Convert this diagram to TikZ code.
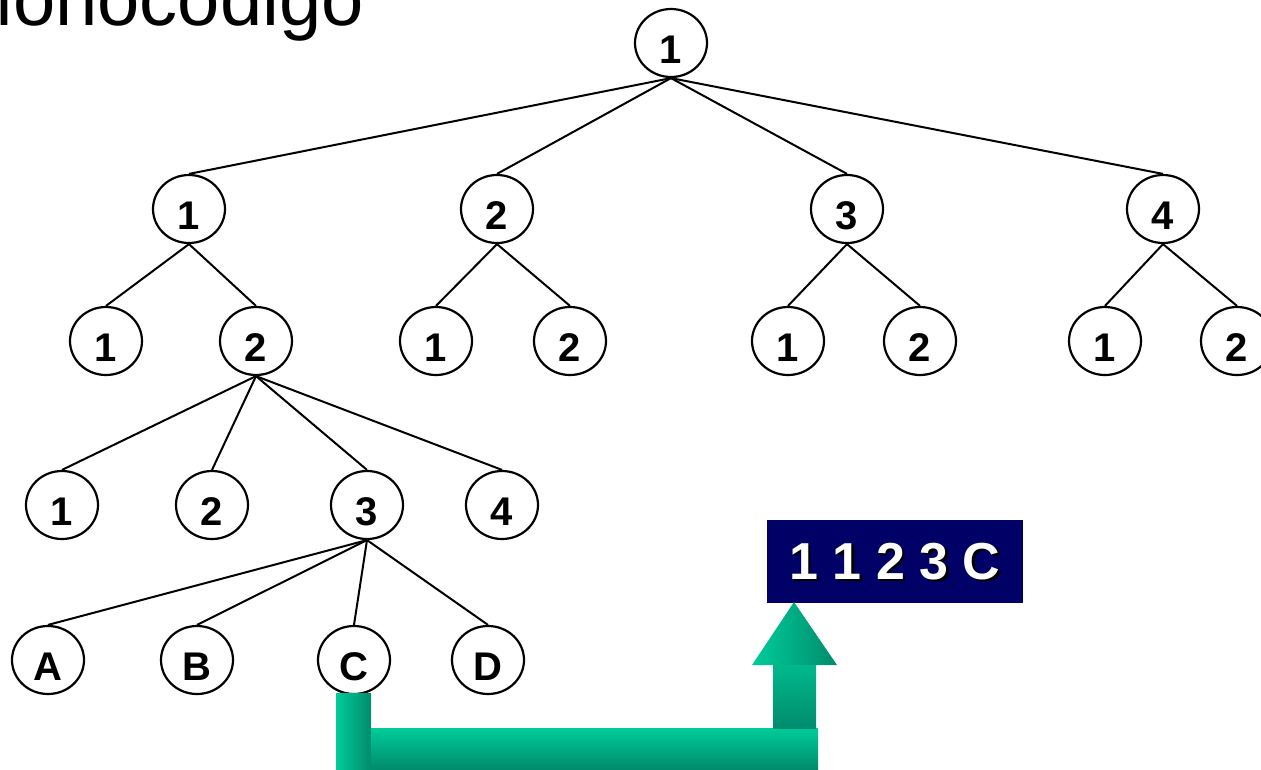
\documentclass[tikz,border=0pt]{standalone}
\usepackage{fontspec}
\setmainfont{Liberation Sans}
\usetikzlibrary{shapes.geometric}
\definecolor{navybox}{HTML}{000066}
\definecolor{grnA}{HTML}{00CC99}
\definecolor{grnB}{HTML}{008C6C}
\tikzset{
  tn/.style={ellipse, draw=black, line width=2.2pt, minimum width=72pt, minimum height=68pt,
    inner sep=0pt, font=\fontsize{40}{42}\selectfont\bfseries, text height=40pt, text depth=0pt},
  ed/.style={line width=2pt},
  codetxt/.style={font=\fontsize{52}{54}\selectfont\bfseries, inner sep=0pt}
}
\begin{document}
\begin{tikzpicture}[x=1pt,y=-1pt]
\useasboundingbox (0,0) rectangle (1261,769);
% title (clipped)
\node[anchor=base east, inner sep=0pt, font=\fontsize{76}{80}\selectfont] (title) at (364,25) {monocodigo};
% tree
\node[tn] (r) at (671,43) {1};
\node[tn] (a1) at (189,209) {1};
\node[tn] (a2) at (497,209) {2};
\node[tn] (a3) at (847,209) {3};
\node[tn] (a4) at (1163,209) {4};
\node[tn] (b1) at (106,341) {1};
\node[tn] (b2) at (256,341) {2};
\node[tn] (b3) at (436,341) {1};
\node[tn] (b4) at (570,341) {2};
\node[tn] (b5) at (788,341) {1};
\node[tn] (b6) at (920,341) {2};
\node[tn] (b7) at (1105,341) {1};
\node[tn] (b8) at (1237,341) {2};
\node[tn] (c1) at (62,505) {1};
\node[tn] (c2) at (212,505) {2};
\node[tn] (c3) at (367,505) {3};
\node[tn] (c4) at (502,505) {4};
\node[tn] (d1) at (48,660) {A};
\node[tn] (d2) at (197,660) {B};
\node[tn] (d3) at (354,660) {C};
\node[tn] (d4) at (488,660) {D};
\foreach \c in {a1,a2,a3,a4} \draw[ed] (r.south) -- (\c.north);
\draw[ed] (a1.south) -- (b1.north);
\draw[ed] (a1.south) -- (b2.north);
\draw[ed] (a2.south) -- (b3.north);
\draw[ed] (a2.south) -- (b4.north);
\draw[ed] (a3.south) -- (b5.north);
\draw[ed] (a3.south) -- (b6.north);
\draw[ed] (a4.south) -- (b7.north);
\draw[ed] (a4.south) -- (b8.north);
\foreach \c in {c1,c2,c3,c4} \draw[ed] (b2.south) -- (\c.north);
\foreach \c in {d1,d2,d3,d4} \draw[ed] (c3.south) -- (\c.north);
% code box
\node[fill=navybox, minimum width=256pt, minimum height=83pt, inner sep=0pt] (box) at (895,561.5) {};
\node[codetxt, text=black] (codeshadow) at (897.5,564) {1 1 2 3 C};
\node[codetxt, text=white] (code) at (895,562) {1 1 2 3 C};
% green arrow
\shade[left color=grnA, right color=grnB] (336,693) rectangle (371,769);
\shade[top color=grnA, bottom color=grnB] (371,728) rectangle (818,769);
\shade[top color=grnA!70!grnB, bottom color=grnB] (773,665) rectangle (816,728);
\shade[left color=grnA, right color=grnB] (752,665) -- (794,602) -- (837,665) -- cycle;
\end{tikzpicture}
\end{document}
